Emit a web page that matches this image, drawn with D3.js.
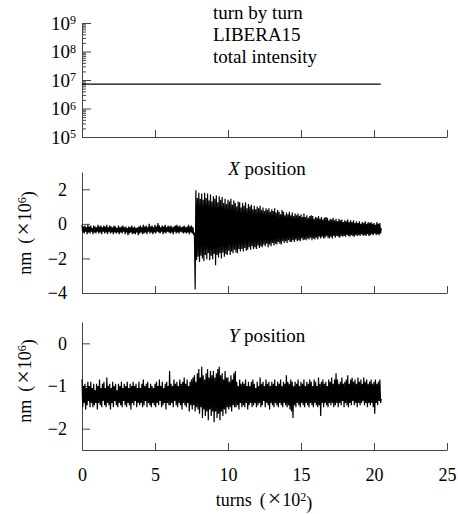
<!DOCTYPE html>
<html>
<head>
<meta charset="utf-8">
<script src="https://cdn.jsdelivr.net/npm/d3@7"></script>
<style>
  body { margin: 0; background: #fff; }
  svg { display: block; }
</style>
</head>
<body>
<script>
// turns are in units of 100, one sample every 0.05 (5 turns)
const turnStep = 0.05;

// total intensity, flat line
const intensityTurns = [0, 20.46];
const intensity = [7.2e6, 7.2e6];

// X position (nm x 1e6), kick at 7.75
const xPos = [
  -0.05,-0.5,-0.15,-0.55,-0.1,-0.45,-0.2,-0.6,-0.05,-0.5,
  -0.15,-0.55,-0.1,-0.45,-0.25,-0.6,-0.1,-0.5,-0.15,-0.55,
  -0.2,-0.45,-0.05,-0.55,-0.15,-0.5,-0.1,-0.6,-0.2,-0.45,
  -0.1,-0.55,-0.15,-0.5,-0.05,-0.6,-0.2,-0.45,-0.1,-0.55,
  -0.15,-0.5,-0.2,-0.6,-0.1,-0.5,-0.15,-0.55,-0.25,-0.5,
  -0.1,-0.6,-0.2,-0.5,-0.15,-0.55,-0.1,-0.45,-0.2,-0.6,
  -0.15,-0.5,-0.25,-0.65,-0.15,-0.55,-0.2,-0.5,-0.1,-0.6,
  -0.2,-0.55,-0.15,-0.6,-0.25,-0.5,-0.2,-0.65,-0.15,-0.55,
  -0.1,-0.5,-0.2,-0.6,-0.05,-0.55,-0.15,-0.5,-0.1,-0.6,
  -0.2,-0.45,0.0,-0.55,-0.15,-0.5,-0.1,-0.6,-0.2,-0.5,
  -0.05,-0.55,-0.15,-0.45,0.05,-0.5,-0.1,-0.55,-0.2,-0.45,
  -0.1,-0.6,-0.15,-0.5,-0.05,-0.55,-0.2,-0.45,-0.1,-0.5,
  -0.15,-0.55,-0.1,-0.5,-0.2,-0.6,-0.15,-0.45,-0.1,-0.55,
  -0.05,-0.5,-0.15,-0.55,-0.1,-0.45,-0.2,-0.5,-0.15,-0.55,
  -0.1,-0.5,-0.2,-0.55,-0.15,-0.5,-0.05,-0.6,-0.15,-0.5,
  -0.1,-0.55,-0.2,-0.65,-0.5,
  -3.8,
  1.95,-2.1,1.5,-1.9,1.8,-2.2,1.45,-1.85,1.75,-2.0,
  1.4,-2.15,1.8,-1.8,1.5,-2.05,1.75,-1.7,1.35,-2.1,
  1.7,-1.85,1.3,-2.05,1.6,-1.75,1.45,-2.4,1.65,-1.8,
  1.25,-1.95,1.6,-1.7,1.4,-2.0,1.55,-1.65,1.2,-1.9,
  1.45,-1.75,1.15,-1.8,1.4,-1.55,1.3,-1.8,1.45,-1.6,
  1.1,-1.7,1.35,-1.5,1.2,-1.65,1.0,-1.7,1.3,-1.45,
  1.25,-1.6,0.95,-1.45,1.2,-1.6,1.05,-1.4,1.25,-1.55,
  0.9,-1.5,1.15,-1.35,1.0,-1.5,1.1,-1.3,0.85,-1.45,
  1.05,-1.35,0.85,-1.45,1.0,-1.25,0.9,-1.4,1.05,-1.3,
  0.8,-1.35,0.95,-1.2,0.75,-1.3,0.9,-1.15,0.8,-1.35,
  0.9,-1.2,0.7,-1.3,0.85,-1.1,0.75,-1.25,0.9,-1.15,
  0.65,-1.2,0.8,-1.05,0.7,-1.15,0.55,-1.2,0.8,-1.0,
  0.7,-1.1,0.5,-1.0,0.65,-1.1,0.55,-0.95,0.7,-1.05,
  0.5,-1.05,0.65,-0.95,0.45,-1.05,0.6,-0.9,0.5,-1.0,
  0.6,-0.95,0.45,-1.0,0.55,-0.85,0.4,-0.95,0.6,-0.9,
  0.4,-0.95,0.5,-0.85,0.35,-0.9,0.45,-0.8,0.5,-0.95,
  0.45,-0.85,0.3,-0.9,0.4,-0.8,0.35,-0.9,0.45,-0.75,
  0.3,-0.85,0.4,-0.75,0.25,-0.85,0.35,-0.8,0.4,-0.7,
  0.35,-0.8,0.2,-0.85,0.3,-0.75,0.25,-0.85,0.35,-0.7,
  0.2,-0.8,0.3,-0.7,0.15,-0.75,0.3,-0.8,0.2,-0.7,
  0.25,-0.75,0.1,-0.7,0.2,-0.75,0.15,-0.65,0.25,-0.7,
  0.1,-0.75,0.2,-0.65,0.1,-0.7,0.2,-0.75,0.05,-0.65,
  0.15,-0.7,0.05,-0.65,0.15,-0.7,0.0,-0.6,0.1,-0.7,
  0.05,-0.65,0.15,-0.7,0.0,-0.6,0.1,-0.7,0.05,-0.65,
  0.1,-0.6,0.0,-0.65,0.05,-0.55,-0.05,-0.65,0.1,-0.6,
  0.0,-0.65,0.05,-0.55,-0.25
];

// Y position (nm x 1e6)
const yPos = [
  -0.85,-1.5,-1.0,-1.4,-0.95,-1.55,-1.05,-1.45,-0.9,-1.35,
  -1.0,-1.5,-0.9,-1.4,-1.05,-1.5,-0.95,-1.45,-1.1,-1.4,
  -0.95,-1.55,-1.0,-1.4,-0.85,-1.45,-1.05,-1.5,-0.95,-1.35,
  -0.9,-1.45,-1.05,-1.5,-0.8,-1.4,-1.0,-1.45,-0.95,-1.55,
  -1.05,-1.4,-0.9,-1.5,-1.0,-1.35,-0.95,-1.45,-1.1,-1.5,
  -0.95,-1.4,-1.0,-1.45,-0.9,-1.5,-1.05,-1.35,-0.95,-1.45,
  -1.0,-1.5,-0.9,-1.4,-1.05,-1.45,-0.95,-1.55,-1.0,-1.4,
  -0.9,-1.45,-1.0,-1.35,-0.95,-1.5,-1.05,-1.4,-0.9,-1.45,
  -1.05,-1.4,-0.95,-1.5,-0.85,-1.45,-1.0,-1.35,-0.95,-1.5,
  -0.9,-1.4,-1.05,-1.45,-0.95,-1.5,-1.0,-1.4,-1.05,-1.45,
  -0.95,-1.5,-0.9,-1.4,-1.0,-1.45,-0.85,-1.35,-1.0,-1.5,
  -0.9,-1.45,-1.05,-1.4,-0.95,-1.55,-0.9,-1.4,-1.0,-1.45,
  -0.65,-1.45,-0.95,-1.4,-1.0,-1.5,-0.85,-1.35,-0.95,-1.45,
  -0.9,-1.5,-1.0,-1.4,-0.85,-1.45,-0.95,-1.55,-0.9,-1.4,
  -0.8,-1.45,-0.95,-1.5,-0.85,-1.4,-1.0,-1.6,-0.9,-1.45,
  -0.85,-1.55,-0.8,-1.45,-0.75,-1.6,-0.9,-1.5,-0.7,-1.55,
  -0.6,-1.65,-0.8,-1.5,-0.55,-1.75,-0.75,-1.55,-0.85,-1.7,
  -0.7,-1.6,-0.6,-1.8,-0.8,-1.55,-0.65,-1.7,-0.75,-1.6,
  -0.65,-1.85,-0.8,-1.6,-0.7,-1.75,-0.6,-1.65,-0.55,-1.8,
  -0.75,-1.6,-0.7,-1.7,-0.85,-1.55,-0.65,-1.65,-0.8,-1.5,
  -0.8,-1.55,-0.9,-1.5,-0.75,-1.6,-0.85,-1.45,-0.7,-1.5,
  -0.65,-1.5,-0.9,-1.45,-1.0,-1.55,-0.85,-1.4,-0.95,-1.5,
  -0.9,-1.45,-0.95,-1.5,-0.85,-1.4,-1.0,-1.55,-0.9,-1.45,
  -1.0,-1.4,-0.9,-1.5,-0.85,-1.45,-0.95,-1.4,-1.05,-1.5,
  -0.9,-1.45,-1.0,-1.4,-0.8,-1.5,-0.95,-1.45,-0.9,-1.35,
  -1.0,-1.5,-0.85,-1.4,-0.95,-1.45,-0.9,-1.55,-1.0,-1.4,
  -0.9,-1.45,-0.95,-1.5,-0.85,-1.4,-1.0,-1.45,-0.9,-1.5,
  -0.95,-1.4,-0.85,-1.45,-1.0,-1.5,-0.9,-1.4,-0.95,-1.45,
  -0.75,-1.5,-0.9,-1.45,-0.95,-1.55,-0.85,-1.6,-0.9,-1.75,
  -1.0,-1.45,-0.9,-1.5,-0.95,-1.4,-0.85,-1.45,-1.0,-1.5,
  -0.9,-1.4,-0.95,-1.45,-0.85,-1.5,-1.0,-1.4,-0.9,-1.45,
  -0.95,-1.5,-0.85,-1.4,-0.9,-1.45,-1.0,-1.5,-0.85,-1.4,
  -0.9,-1.45,-1.0,-1.5,-0.8,-1.45,-0.95,-1.7,-0.9,-1.4,
  -0.85,-1.5,-0.95,-1.4,-0.9,-1.45,-1.0,-1.5,-0.85,-1.4,
  -0.9,-1.45,-0.8,-1.4,-0.95,-1.5,-0.85,-1.45,-0.7,-1.4,
  -0.85,-1.5,-0.95,-1.4,-0.9,-1.45,-0.8,-1.35,-0.95,-1.5,
  -0.9,-1.4,-0.85,-1.45,-0.75,-1.5,-0.95,-1.4,-0.85,-1.45,
  -0.8,-1.35,-0.9,-1.45,-0.85,-1.4,-0.95,-1.5,-0.8,-1.4,
  -0.9,-1.45,-0.85,-1.4,-0.95,-1.35,-0.8,-1.45,-0.9,-1.4,
  -0.85,-1.5,-0.95,-1.4,-0.9,-1.45,-0.85,-1.4,-0.95,-1.5,
  -0.9,-1.65,-0.85,-1.4,-0.95,-1.45,-0.9,-1.35,-0.85,-1.4,
  -1.3
];

const turnTicks = [0, 5, 10, 15, 20, 25];
const logMajor = [1e5, 1e6, 1e7, 1e8, 1e9];
const xPosTicks = [-4, -2, 0, 2];
const yPosTicks = [-2, -1, 0];

const W = 458, H = 514;
const font = "'Liberation Serif', 'Times New Roman', serif";
const axisColor = "#444";

const svg = d3.select("body").append("svg")
  .attr("width", W).attr("height", H)
  .style("font-family", font);

const x = d3.scaleLinear().domain([0, 25]).range([82, 447]);

const yInt = d3.scaleLog().domain([1e5, 1e9]).range([137, 23]);
const yX = d3.scaleLinear().domain([-4, 3]).range([293, 172]);
const yY = d3.scaleLinear().domain([-2.5, 0.5]).range([450, 322]);

function styleAxis(g) {
  g.selectAll("path.domain").attr("stroke", axisColor);
  g.selectAll(".tick line").attr("stroke", axisColor);
  g.selectAll(".tick text").attr("fill", "#000");
  g.attr("font-size", 18).attr("font-family", font);
}

const minus = d => d < 0 ? "\u2212" + Math.abs(d) : String(d);

// bottom axes of each panel
function turnAxis(y0, withLabels) {
  const g = svg.append("g").attr("transform", "translate(0," + y0 + ")")
    .call(d3.axisBottom(x).tickValues(turnTicks).tickSize(-7).tickSizeOuter(0)
      .tickPadding(18).tickFormat(withLabels ? d3.format("d") : () => ""));
  styleAxis(g);
}
turnAxis(137, false);
turnAxis(293, false);
turnAxis(450, true);

// log axis, top panel
const logMinor = [];
logMajor.slice(0, -1).forEach(p => { for (let k = 2; k < 10; k++) logMinor.push(p * k); });

const gMinor = svg.append("g").attr("transform", "translate(82,0)")
  .call(d3.axisLeft(yInt).tickValues(logMinor).tickSize(-4).tickSizeOuter(0).tickFormat(() => ""));
styleAxis(gMinor);
gMinor.select("path.domain").remove();

const gLog = svg.append("g").attr("transform", "translate(82,0)")
  .call(d3.axisLeft(yInt).tickValues(logMajor).tickSize(-9).tickSizeOuter(0).tickPadding(6).tickFormat(() => ""));
styleAxis(gLog);
gLog.attr("font-size", 19);
gLog.selectAll(".tick text").each(function(d) {
  const t = d3.select(this);
  t.append("tspan").text("10");
  t.append("tspan").attr("dy", "-0.45em").attr("font-size", 12).text(Math.round(Math.log10(d)));
});

// linear y axes
const gX = svg.append("g").attr("transform", "translate(82,0)")
  .call(d3.axisLeft(yX).tickValues(xPosTicks).tickSize(-8).tickSizeOuter(0).tickPadding(15).tickFormat(minus));
styleAxis(gX);

const gY = svg.append("g").attr("transform", "translate(82,0)")
  .call(d3.axisLeft(yY).tickValues(yPosTicks).tickSize(-8).tickSizeOuter(0).tickPadding(15).tickFormat(minus));
styleAxis(gY);

// data traces
svg.append("path")
  .attr("d", d3.line().x((d, i) => x(intensityTurns[i])).y(d => yInt(d))(intensity))
  .attr("fill", "none").attr("stroke", "#000").attr("stroke-width", 1.2);

const lineX = d3.line().x((d, i) => x(i * turnStep)).y(d => yX(d));
svg.append("path").attr("d", lineX(xPos))
  .attr("fill", "none").attr("stroke", "#000").attr("stroke-width", 1.2)
  .attr("stroke-linejoin", "bevel");

const lineY = d3.line().x((d, i) => x(i * turnStep)).y(d => yY(d));
svg.append("path").attr("d", lineY(yPos))
  .attr("fill", "none").attr("stroke", "#000").attr("stroke-width", 1.2)
  .attr("stroke-linejoin", "bevel");

// titles
const titles = svg.append("g").attr("font-size", 19).attr("fill", "#000");
["turn by turn", "LIBERA15", "total intensity"].forEach((s, i) => {
  titles.append("text").attr("x", 213).attr("y", 19 + i * 22).text(s);
});

const tX = titles.append("text").attr("x", 267).attr("y", 175).attr("text-anchor", "middle");
tX.append("tspan").attr("font-style", "italic").text("X");
tX.append("tspan").text(" position");

const tY = titles.append("text").attr("x", 267).attr("y", 342).attr("text-anchor", "middle");
tY.append("tspan").attr("font-style", "italic").text("Y");
tY.append("tspan").text(" position");

// axis labels: base (×10^sup) with a wide times sign
function unitLabel(el, base, sup) {
  el.append("tspan").text(base);
  el.append("tspan").attr("dx", 8).text("(");
  el.append("tspan").attr("dx", 2).attr("font-size", 24).text("\u00d7");
  el.append("tspan").attr("dx", 1).text("10");
  el.append("tspan").attr("dy", "-0.45em").attr("font-size", 12).text(sup);
  el.append("tspan").attr("dy", "0.45em").text(")");
}

[233, 381].forEach(cy => {
  const t = svg.append("text").attr("font-size", 18)
    .attr("transform", "translate(31," + cy + ") rotate(-90)")
    .attr("text-anchor", "middle");
  unitLabel(t, "nm", "6");
});

const tTurns = svg.append("text").attr("font-size", 18)
  .attr("x", 264).attr("y", 506).attr("text-anchor", "middle");
unitLabel(tTurns, "turns", "2");
</script>
</body>
</html>
